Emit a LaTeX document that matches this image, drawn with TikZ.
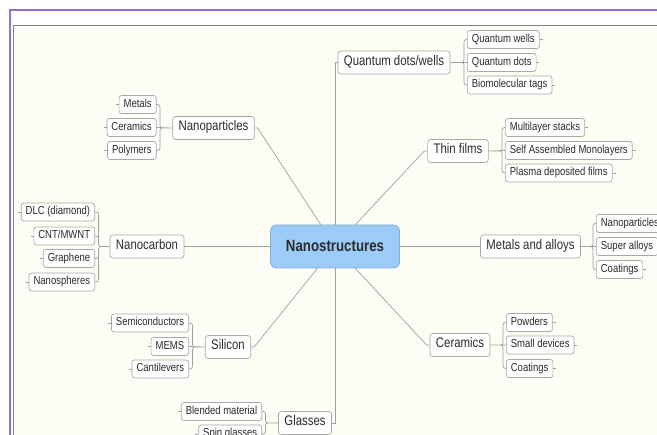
\documentclass[tikz,border=0pt]{standalone}
\usepackage{fontspec}
\setmainfont{Liberation Sans}[FakeStretch=0.82]
\usepackage{tikz}
\definecolor{framepurple}{HTML}{8E72CC}
\definecolor{framegray}{HTML}{808080}
\definecolor{paper}{HTML}{FDFDF5}
\definecolor{boxline}{HTML}{A8A8A8}
\definecolor{linkgray}{HTML}{A0A0A0}
\definecolor{rootblue}{HTML}{9CCBFA}
\definecolor{rootline}{HTML}{86AAD2}
\definecolor{textgray}{HTML}{2B2B2B}

\begin{document}
\begin{tikzpicture}[x=1pt,y=-1pt,
    sub/.style={draw=boxline,fill=white,rounded corners=2.5pt,line width=0.7pt,inner xsep=4.5pt,inner ysep=0pt,
        minimum height=18pt,text height=0.72em,text depth=0.2em,text=textgray,font=\fontsize{11.6}{13}\selectfont},
    topic/.style={draw=boxline,fill=white,rounded corners=3pt,line width=0.7pt,inner xsep=6pt,inner ysep=0pt,
        minimum height=23pt,text height=0.72em,text depth=0.2em,text=textgray,font=\fontsize{13.9}{16}\selectfont},
    root/.style={draw=rootline,fill=rootblue,rounded corners=6pt,line width=0.7pt,minimum width=129pt,
        minimum height=43pt,text=textgray,font=\fontsize{16.2}{19}\selectfont\bfseries},
    link/.style={draw=linkgray,line width=0.7pt},
    br/.style={link,rounded corners=2.5pt}]
            \useasboundingbox (0,0) rectangle (657,435);
            \clip (0,0) rectangle (657,435);
            \fill[white] (0,0) rectangle (657,435);
            \fill[paper] (13,26) rectangle (657,435);
            \draw[framegray,line width=1pt] (13,435) -- (13,26) -- (657,26);
            \draw[framepurple,line width=2pt] (9.5,435) -- (9.5,10.5) -- (657,10.5);

            \node[root] (root) at (335, 246.5) {Nanostructures};

            \node[topic] (np) at (213.5, 128) {Nanoparticles};
            \node[topic] (qd) at (394, 62.5) {Quantum dots/wells};
            \node[topic] (tf) at (458, 151) {Thin films};
            \node[topic] (nc) at (147, 246.5) {Nanocarbon};
            \node[topic] (ma) at (530.5, 246.5) {Metals and alloys};
            \node[topic] (si) at (228, 347) {Silicon};
            \node[topic] (ce) at (460, 345) {Ceramics};
            \node[topic] (gl) at (305, 423) {Glasses};

            \node[sub,anchor=east] (np1) at (156.5, 104.5) {Metals};
            \node[sub,anchor=east] (np2) at (156.5, 127.5) {Ceramics};
            \node[sub,anchor=east] (np3) at (156.5, 150.5) {Polymers};

            \node[sub,anchor=west] (qd1) at (467, 39.5) {Quantum wells};
            \node[sub,anchor=west] (qd2) at (467, 62.5) {Quantum dots};
            \node[sub,anchor=west] (qd3) at (467, 85) {Biomolecular tags};

            \node[sub,anchor=west] (tf1) at (505, 127.5) {Multilayer stacks};
            \node[sub,anchor=west] (tf2) at (505, 150.5) {Self Assembled Monolayers};
            \node[sub,anchor=west] (tf3) at (505, 173) {Plasma deposited films};

            \node[sub,anchor=east] (nc1) at (95, 212) {DLC (diamond)};
            \node[sub,anchor=east] (nc2) at (95, 236) {CNT/MWNT};
            \node[sub,anchor=east] (nc3) at (95, 258.5) {Graphene};
            \node[sub,anchor=east] (nc4) at (95, 282) {Nanospheres};

            \node[sub,anchor=west] (ma1) at (596, 223.5) {Nanoparticles};
            \node[sub,anchor=west] (ma2) at (596, 246.5) {Super alloys};
            \node[sub,anchor=west] (ma3) at (596, 269.5) {Coatings};

            \node[sub,anchor=east] (si1) at (189, 323) {Semiconductors};
            \node[sub,anchor=east] (si2) at (189, 346.5) {MEMS};
            \node[sub,anchor=east] (si3) at (189, 369) {Cantilevers};

            \node[sub,anchor=west] (ce1) at (506, 322.5) {Powders};
            \node[sub,anchor=west] (ce2) at (506, 345) {Small devices};
            \node[sub,anchor=west] (ce3) at (506, 368.5) {Coatings};

            \node[sub,anchor=east] (gl1) at (262, 411.5) {Blended material};
            \node[sub,anchor=east] (gl2) at (262, 434) {Spin glasses};

            \draw[link] (np.east) -- ++(3,0) -- (root);
            \draw[link] (tf.west) -- ++(-3,0) -- (root);
            \draw[link] (si.east) -- ++(3,0) -- (root);
            \draw[link] (ce.west) -- ++(-3,0) -- (root);
            \draw[link] (nc) -- (root);
            \draw[link] (ma) -- (root);
            \draw[link] (root) |- (qd.west);
            \draw[link] (root) |- (gl.east);

            \draw[br] (np1.east) -- ++(3.5,0) |- (np.west) (np2.east) -- (np.west) (np3.east) -- ++(3.5,0) |- (np.west);
            \draw[br] (qd1.west) -- ++(-3,0) |- (qd.east) (qd2.west) -- (qd.east) (qd3.west) -- ++(-3,0) |- (qd.east);
            \draw[br] (tf1.west) -- ++(-3,0) |- (tf.east) (tf2.west) -- (tf.east) (tf3.west) -- ++(-3,0) |- (tf.east);
            \draw[br] (nc1.east) -- ++(3.5,0) |- (nc.west) (nc2.east) -- ++(3.5,0) |- (nc.west)
                      (nc3.east) -- ++(3.5,0) |- (nc.west) (nc4.east) -- ++(3.5,0) |- (nc.west);
            \draw[br] (ma1.west) -- ++(-3,0) |- (ma.east) (ma2.west) -- (ma.east) (ma3.west) -- ++(-3,0) |- (ma.east);
            \draw[br] (si1.east) -- ++(3.5,0) |- (si.west) (si2.east) -- (si.west) (si3.east) -- ++(3.5,0) |- (si.west);
            \draw[br] (ce1.west) -- ++(-3,0) |- (ce.east) (ce2.west) -- (ce.east) (ce3.west) -- ++(-3,0) |- (ce.east);
            \draw[br] (gl1.east) -- ++(3.5,0) |- (gl.west) (gl2.east) -- ++(3.5,0) |- (gl.west);

            \draw[link] (np1.west) -- ++(-3,0) (np2.west) -- ++(-3,0) (np3.west) -- ++(-3,0);
            \draw[link] (qd1.east) -- ++(3,0) (qd2.east) -- ++(3,0) (qd3.east) -- ++(3,0);
            \draw[link] (tf1.east) -- ++(3,0) (tf2.east) -- ++(3,0) (tf3.east) -- ++(3,0);
            \draw[link] (nc1.west) -- ++(-3,0) (nc2.west) -- ++(-3,0) (nc3.west) -- ++(-3,0) (nc4.west) -- ++(-3,0);
            \draw[link] (ma3.east) -- ++(3,0);
            \draw[link] (si1.west) -- ++(-3,0) (si2.west) -- ++(-3,0) (si3.west) -- ++(-3,0);
            \draw[link] (ce1.east) -- ++(3,0) (ce2.east) -- ++(3,0) (ce3.east) -- ++(3,0);
            \draw[link] (gl1.west) -- ++(-3,0) (gl2.west) -- ++(-3,0);
        \end{tikzpicture}
\end{document}
